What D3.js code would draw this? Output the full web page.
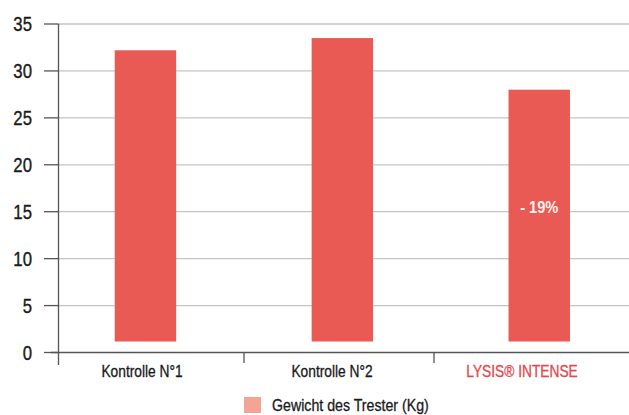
<!DOCTYPE html>
<html>
<head>
<meta charset="utf-8">
<script src="https://cdn.jsdelivr.net/npm/d3@7/dist/d3.min.js"></script>
<style>
  html, body { margin: 0; padding: 0; background: #ffffff; }
  svg { display: block; }
  text { font-family: "Liberation Sans", Arial, sans-serif; }
</style>
</head>
<body>
<div id="chart"></div>
<script>
// Trester weight per trial (kg)
const categories = ["Kontrolle N°1", "Kontrolle N°2", "LYSIS® INTENSE"];
const weights = [32.2, 33.5, 28.0];
const yTicks = [0, 5, 10, 15, 20, 25, 30, 35];
const barNotes = ["", "", "- 19%"];
const labelColors = ["#1a1a1a", "#1a1a1a", "#e8454a"];
const seriesName = "Gewicht des Trester (Kg)";

const W = 629, H = 415;
const svg = d3.select("#chart").append("svg")
  .attr("width", W).attr("height", H);

const y = d3.scaleLinear().domain([0, 35]).range([352.5, 24]);

// category bands for axis ticks and labels
const xAxisScale = d3.scaleBand().domain(categories).range([54, 624]);
// bar placement
const xBar = d3.scaleBand().domain(categories)
  .range([47, 637.7]).paddingInner(0.688).paddingOuter(0.344);

const axisLeft = 58.5;
const narrow = 0.86; // horizontal squeeze for the condensed lettering

// gridlines
svg.append("g").selectAll("line").data(yTicks.filter(d => d > 0)).join("line")
  .attr("x1", axisLeft).attr("x2", W)
  .attr("y1", d => y(d)).attr("y2", d => y(d))
  .attr("stroke", "#c4c4c4").attr("stroke-width", 1.3);

// y ticks + labels
const yAxis = svg.append("g");
yAxis.selectAll("line").data(yTicks).join("line")
  .attr("x1", 44).attr("x2", axisLeft)
  .attr("y1", d => y(d)).attr("y2", d => y(d))
  .attr("stroke", "#555").attr("stroke-width", 1.3);
yAxis.selectAll("text").data(yTicks).join("text")
  .attr("transform", d => `translate(32,${y(d)}) scale(${narrow},1)`)
  .attr("dy", "0.36em")
  .attr("text-anchor", "end")
  .attr("font-size", 19.5)
  .attr("fill", "#1a1a1a")
  .attr("stroke", "#1a1a1a").attr("stroke-width", 0.35)
  .text(d => d);

// bars (baseline lifted slightly above the axis line)
const baseGap = 11;
svg.append("g").selectAll("rect").data(weights).join("rect")
  .attr("x", (d, i) => xBar(categories[i]))
  .attr("width", xBar.bandwidth())
  .attr("y", d => y(d))
  .attr("height", d => y(0) - baseGap - y(d))
  .attr("fill", "#e85a53");

// value note inside the bar
svg.append("g").selectAll("text").data(barNotes).join("text")
  .attr("transform", (d, i) =>
    `translate(${xBar(categories[i]) + xBar.bandwidth() / 2},213) scale(${narrow},1)`)
  .attr("text-anchor", "middle")
  .attr("font-size", 17)
  .attr("font-weight", "bold")
  .attr("fill", "#fff4f0")
  .text(d => d);

// vertical axis line
svg.append("line")
  .attr("x1", axisLeft).attr("x2", axisLeft)
  .attr("y1", y(35)).attr("y2", 365)
  .attr("stroke", "#555").attr("stroke-width", 1.3);

// x axis line
svg.append("line")
  .attr("x1", 51).attr("x2", W)
  .attr("y1", y(0)).attr("y2", y(0))
  .attr("stroke", "#555").attr("stroke-width", 1.5);

// band separator ticks
svg.append("g").selectAll("line").data(categories.slice(1)).join("line")
  .attr("x1", d => xAxisScale(d)).attr("x2", d => xAxisScale(d))
  .attr("y1", y(0)).attr("y2", 363)
  .attr("stroke", "#555").attr("stroke-width", 1.3);

// category labels
svg.append("g").selectAll("text").data(categories).join("text")
  .attr("transform", d =>
    `translate(${xAxisScale(d) + xAxisScale.bandwidth() / 2 - 7},377) scale(${narrow},1)`)
  .attr("text-anchor", "middle")
  .attr("font-size", 16)
  .attr("fill", (d, i) => labelColors[i])
  .attr("stroke", (d, i) => labelColors[i]).attr("stroke-width", 0.3)
  .text(d => d);

// legend
const legend = svg.append("g").attr("transform", "translate(244,397)");
legend.append("rect")
  .attr("width", 17).attr("height", 16)
  .attr("fill", "#f2a496");
legend.append("text")
  .attr("transform", `translate(28,14) scale(${narrow},1)`)
  .attr("font-size", 16.5)
  .attr("fill", "#1a1a1a")
  .attr("stroke", "#1a1a1a").attr("stroke-width", 0.3)
  .text(seriesName);
</script>
</body>
</html>
